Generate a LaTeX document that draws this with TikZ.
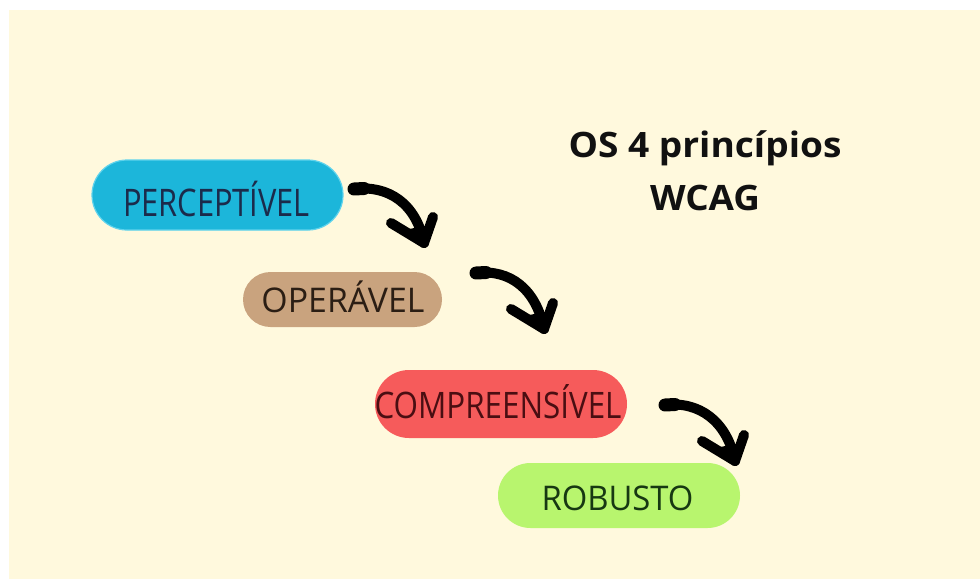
\documentclass[tikz,border=0pt]{standalone}
\usepackage{fontspec}
\setmainfont{Open Sans}
\usetikzlibrary{shapes.misc,calc}
\definecolor{bgcream}{HTML}{FFF9DD}
\definecolor{pcyan}{HTML}{1CB6DA}
\definecolor{pcyanedge}{HTML}{5FD3EC}
\definecolor{ptan}{HTML}{C9A37E}
\definecolor{pred}{HTML}{F65B5B}
\definecolor{pgreen}{HTML}{B8F56E}
\definecolor{tnavy}{HTML}{1B2B4B}
\definecolor{tbrown}{HTML}{2B1E14}
\definecolor{tmaroon}{HTML}{4A0E12}
\definecolor{tgreen}{HTML}{173812}
\definecolor{ttitle}{HTML}{111111}
\begin{document}
\begin{tikzpicture}[x=1pt,y=-1pt,
  pill/.style={rounded rectangle, inner sep=0pt},
  lbl/.style={anchor=base, inner sep=0pt, outer sep=0pt},
  curvearrow/.style={line width=10pt, line cap=round, line join=round, black}]
\fill[white] (0,0) rectangle (980,579);
\useasboundingbox (0,0) rectangle (980,579);
\fill[bgcream] (9,10) rectangle (980,579);

% pills
\node[pill, fill=pcyan, draw=pcyanedge, line width=1.2pt, minimum width=251pt, minimum height=70pt] (perc) at (217.5,195) {};
\node[pill, fill=ptan, minimum width=199pt, minimum height=55pt] (oper) at (342.5,299.5) {};
\node[pill, fill=pred, minimum width=252pt, minimum height=68pt] (comp) at (501,404) {};
\node[pill, fill=pgreen, minimum width=242pt, minimum height=65pt] (robu) at (619,495.5) {};

% labels
\node[lbl, text=tnavy] (percT) at (216.5,216) {\fontsize{38}{40}\selectfont\resizebox{187pt}{\height}{PERCEPTÍVEL}};
\node[lbl, text=tbrown] (operT) at (343,312) {\fontsize{34}{36}\selectfont\resizebox{163pt}{\height}{OPERÁVEL}};
\node[lbl, text=tmaroon] (compT) at (498,418) {\fontsize{36.5}{38}\selectfont\resizebox{247pt}{\height}{COMPREENSÍVEL}};
\node[lbl, text=tgreen] (robuT) at (617.5,510) {\fontsize{34}{36}\selectfont\resizebox{152pt}{\height}{ROBUSTO}};

% title
\node[lbl, text=ttitle] (title1) at (705,157) {\fontsize{35}{37}\selectfont\bfseries\resizebox{273pt}{\height}{OS 4 princípios}};
\node[lbl, text=ttitle] (title2) at (705,210) {\fontsize{35}{37}\selectfont\bfseries\resizebox{110pt}{\height}{WCAG}};

% arrows
\coordinate (a1s) at (354,189);
\coordinate (a1e) at (424,243);
\coordinate (a2s) at (476,273);
\coordinate (a2e) at (544,329);
\coordinate (a3s) at (665,405);
\coordinate (a3e) at (735,461);
\foreach \s/\e in {a1s/a1e, a2s/a2e, a3s/a3e}{
  \draw[curvearrow] (\s) .. controls ($(\s)+(34,-4)$) and ($(\e)+(-8,-40)$) .. (\e);
  \draw[line width=13pt, line cap=round] (\s) -- ($(\s)+(10,-0.5)$);
  \draw[curvearrow] ($(\e)+(-33,-20)$) -- (\e) -- ($(\e)+(9,-26)$);
  \fill[black] (\e) -- ($(\e)+(-20,-13)$) -- ($(\e)+(6,-18)$) -- cycle;
}
\end{tikzpicture}
\end{document}
